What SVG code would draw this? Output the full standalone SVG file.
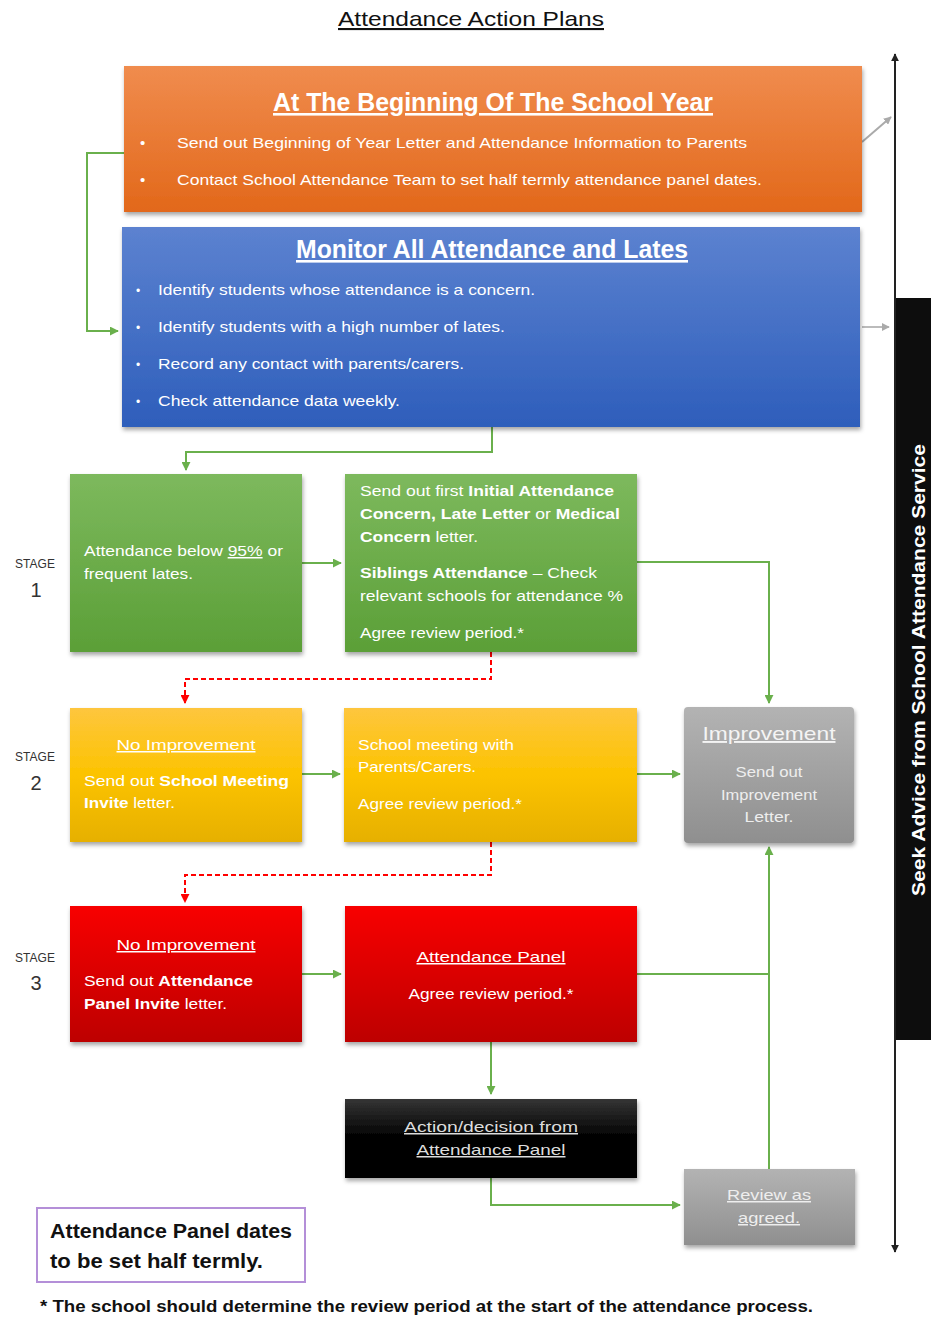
<svg xmlns="http://www.w3.org/2000/svg" width="931" height="1317" viewBox="0 0 931 1317">
<defs>
<linearGradient id="gOr" x1="0" y1="0" x2="0" y2="1"><stop offset="0" stop-color="#f08c4e"/><stop offset="1" stop-color="#e2681a"/></linearGradient>
<linearGradient id="gBl" x1="0" y1="0" x2="0" y2="1"><stop offset="0" stop-color="#5c82d0"/><stop offset="1" stop-color="#2e5ebb"/></linearGradient>
<linearGradient id="gGr" x1="0" y1="0" x2="0" y2="1"><stop offset="0" stop-color="#7db95d"/><stop offset="1" stop-color="#5b9f37"/></linearGradient>
<linearGradient id="gYe" x1="0" y1="0" x2="0" y2="1"><stop offset="0" stop-color="#fec63e"/><stop offset="0.5" stop-color="#fcc300"/><stop offset="1" stop-color="#e6b000"/></linearGradient>
<linearGradient id="gGy" x1="0" y1="0" x2="0" y2="1"><stop offset="0" stop-color="#b3b3b3"/><stop offset="1" stop-color="#8f8f8f"/></linearGradient>
<linearGradient id="gRd" x1="0" y1="0" x2="0" y2="1"><stop offset="0" stop-color="#f80000"/><stop offset="1" stop-color="#bd0000"/></linearGradient>
<linearGradient id="gBk" x1="0" y1="0" x2="0" y2="1"><stop offset="0" stop-color="#353535"/><stop offset="0.5" stop-color="#000"/><stop offset="1" stop-color="#000"/></linearGradient>
<filter id="sh" x="-5%" y="-5%" width="112%" height="115%"><feDropShadow dx="1" dy="3" stdDeviation="2" flood-color="#000" flood-opacity="0.35"/></filter>
<marker id="aG" viewBox="0 0 10 10" refX="9" refY="5" markerWidth="4.5" markerHeight="4.5" orient="auto"><path d="M0,0 L10,5 L0,10 z" fill="#6ab04c"/></marker>
<marker id="aR" viewBox="0 0 10 10" refX="9" refY="5" markerWidth="4.5" markerHeight="4.5" orient="auto"><path d="M0,0 L10,5 L0,10 z" fill="#ff0000"/></marker>
<marker id="aK" viewBox="0 0 10 10" refX="9" refY="5" markerWidth="4" markerHeight="4" orient="auto-start-reverse"><path d="M0,0 L10,5 L0,10 z" fill="#222"/></marker>
<marker id="aY" viewBox="0 0 10 10" refX="9" refY="5" markerWidth="4" markerHeight="4" orient="auto"><path d="M0,0 L10,5 L0,10 z" fill="#aaa"/></marker>
</defs>
<style>
text{font-family:"Liberation Sans",Arial,sans-serif;}
.w{fill:#fff;font-size:15px;}
.wc{fill:#fff;font-size:15px;text-anchor:middle;}
.t{fill:#fff;font-size:26px;font-weight:bold;text-anchor:middle;text-decoration:underline;}
.lg{fill:#eee;font-size:15px;text-anchor:middle;}
.b{font-weight:bold;}
.u{text-decoration:underline;}
.st{fill:#333;font-size:12px;text-anchor:middle;}
.sn{fill:#333;font-size:20px;text-anchor:middle;}
.g{fill:none;stroke:#6ab04c;stroke-width:2;}
.r{fill:none;stroke:#ff0000;stroke-width:2;stroke-dasharray:5,3;}
</style>

<text x="471" y="26" font-size="21" text-anchor="middle" fill="#111" text-decoration="underline" textLength="266" lengthAdjust="spacingAndGlyphs">Attendance Action Plans</text>

<g id="connectors">
<polyline class="g" points="124,153 87,153 87,331 118,331" marker-end="url(#aG)"/>
<polyline class="g" points="492,427 492,452 186,452 186,470" marker-end="url(#aG)"/>
<line class="g" x1="302" y1="563" x2="341" y2="563" marker-end="url(#aG)"/>
<polyline class="g" points="637,562 769,562 769,703" marker-end="url(#aG)"/>
<polyline class="r" points="491,652 491,679 185,679 185,703" marker-end="url(#aR)"/>
<line class="g" x1="302" y1="774" x2="340" y2="774" marker-end="url(#aG)"/>
<line class="g" x1="637" y1="774" x2="680" y2="774" marker-end="url(#aG)"/>
<polyline class="r" points="491,842 491,875 185,875 185,902" marker-end="url(#aR)"/>
<line class="g" x1="302" y1="974" x2="341" y2="974" marker-end="url(#aG)"/>
<line class="g" x1="637" y1="974" x2="769" y2="974"/>
<line class="g" x1="769" y1="1170" x2="769" y2="847" marker-end="url(#aG)"/>
<line class="g" x1="491" y1="1042" x2="491" y2="1094" marker-end="url(#aG)"/>
<polyline class="g" points="491,1178 491,1205 680,1205" marker-end="url(#aG)"/>
<line x1="862" y1="142" x2="891" y2="117" stroke="#aaa" stroke-width="2" marker-end="url(#aY)"/>
<line x1="862" y1="327" x2="889" y2="327" stroke="#bbb" stroke-width="2" marker-end="url(#aY)"/>
<line x1="895" y1="1252" x2="895" y2="54" stroke="#222" stroke-width="2" marker-end="url(#aK)" marker-start="url(#aK)"/>
</g>

<g id="n-begin">
<rect x="124" y="66" width="738" height="146" fill="url(#gOr)" filter="url(#sh)"/>
<text x="493" y="111" class="t" textLength="440" lengthAdjust="spacingAndGlyphs">At The Beginning Of The School Year</text>
<text x="140" y="148" class="w">•</text>
<text x="177" y="148" class="w" textLength="570" lengthAdjust="spacingAndGlyphs">Send out  Beginning of Year Letter and Attendance Information  to Parents</text>
<text x="140" y="185" class="w">•</text>
<text x="177" y="185" class="w" textLength="585" lengthAdjust="spacingAndGlyphs">Contact School Attendance Team to set half termly attendance panel dates.</text>
</g>

<g id="n-monitor">
<rect x="122" y="227" width="738" height="200" fill="url(#gBl)" filter="url(#sh)"/>
<text x="492" y="258" class="t" textLength="392" lengthAdjust="spacingAndGlyphs">Monitor All Attendance and Lates</text>
<text x="136" y="295" class="w" style="font-size:12px">•</text>
<text x="158" y="295" class="w" textLength="377" lengthAdjust="spacingAndGlyphs">Identify students whose attendance is a concern.</text>
<text x="136" y="332" class="w" style="font-size:12px">•</text>
<text x="158" y="332" class="w" textLength="347" lengthAdjust="spacingAndGlyphs">Identify students with a high number of lates.</text>
<text x="136" y="369" class="w" style="font-size:12px">•</text>
<text x="158" y="369" class="w" textLength="306" lengthAdjust="spacingAndGlyphs">Record any contact with parents/carers.</text>
<text x="136" y="406" class="w" style="font-size:12px">•</text>
<text x="158" y="406" class="w" textLength="242" lengthAdjust="spacingAndGlyphs">Check attendance data weekly.</text>
</g>

<g id="n-advice">
<rect x="896" y="298" width="35" height="742" fill="#0d0d0d"/>
<text transform="translate(925,670) rotate(-90)" text-anchor="middle" fill="#fff" font-size="18" font-weight="bold" textLength="452" lengthAdjust="spacingAndGlyphs">Seek Advice from School Attendance Service</text>
</g>

<g id="stage-labels">
<text x="35" y="568" class="st">STAGE</text>
<text x="36" y="597" class="sn">1</text>
<text x="35" y="761" class="st">STAGE</text>
<text x="36" y="790" class="sn">2</text>
<text x="35" y="962" class="st">STAGE</text>
<text x="36" y="990" class="sn">3</text>
</g>

<g id="n-s1a">
<rect x="70" y="474" width="232" height="178" fill="url(#gGr)" filter="url(#sh)"/>
<text x="84" y="556" class="w" textLength="199" lengthAdjust="spacingAndGlyphs">Attendance below <tspan class="u">95%</tspan> or</text>
<text x="84" y="579" class="w" textLength="109" lengthAdjust="spacingAndGlyphs">frequent  lates.</text>
</g>

<g id="n-s1b">
<rect x="345" y="474" width="292" height="178" fill="url(#gGr)" filter="url(#sh)"/>
<text x="360" y="496" class="w" textLength="254" lengthAdjust="spacingAndGlyphs">Send out first <tspan class="b">Initial Attendance</tspan></text>
<text x="360" y="519" class="w" textLength="260" lengthAdjust="spacingAndGlyphs"><tspan class="b">Concern, Late Letter</tspan> or <tspan class="b">Medical</tspan></text>
<text x="360" y="542" class="w" textLength="118" lengthAdjust="spacingAndGlyphs"><tspan class="b">Concern</tspan> letter.</text>
<text x="360" y="578" class="w" textLength="237" lengthAdjust="spacingAndGlyphs"><tspan class="b">Siblings Attendance</tspan> – Check</text>
<text x="360" y="601" class="w" textLength="263" lengthAdjust="spacingAndGlyphs">relevant  schools for  attendance  %</text>
<text x="360" y="638" class="w" textLength="164" lengthAdjust="spacingAndGlyphs">Agree review  period.*</text>
</g>

<g id="n-s2a">
<rect x="70" y="708" width="232" height="134" fill="url(#gYe)" filter="url(#sh)"/>
<text x="186" y="750" class="wc u" textLength="139" lengthAdjust="spacingAndGlyphs">No Improvement</text>
<text x="84" y="786" class="w" textLength="205" lengthAdjust="spacingAndGlyphs">Send out <tspan class="b">School Meeting</tspan></text>
<text x="84" y="808" class="w" textLength="91" lengthAdjust="spacingAndGlyphs"><tspan class="b">Invite</tspan> letter.</text>
</g>

<g id="n-s2b">
<rect x="344" y="708" width="293" height="134" fill="url(#gYe)" filter="url(#sh)"/>
<text x="358" y="750" class="w" textLength="156" lengthAdjust="spacingAndGlyphs">School meeting with</text>
<text x="358" y="772" class="w" textLength="118" lengthAdjust="spacingAndGlyphs">Parents/Carers.</text>
<text x="358" y="809" class="w" textLength="164" lengthAdjust="spacingAndGlyphs">Agree review  period.*</text>
</g>

<g id="n-improve">
<rect x="684" y="707" width="170" height="136" rx="4" fill="url(#gGy)" filter="url(#sh)"/>
<text x="769" y="740" class="lg u" style="font-size:19px;fill:#f4f4f4" textLength="133" lengthAdjust="spacingAndGlyphs">Improvement</text>
<text x="769" y="777" class="lg" textLength="67" lengthAdjust="spacingAndGlyphs">Send out</text>
<text x="769" y="800" class="lg" textLength="96" lengthAdjust="spacingAndGlyphs">Improvement</text>
<text x="769" y="822" class="lg" textLength="49" lengthAdjust="spacingAndGlyphs">Letter.</text>
</g>

<g id="n-s3a">
<rect x="70" y="906" width="232" height="136" fill="url(#gRd)" filter="url(#sh)"/>
<text x="186" y="950" class="wc u" textLength="139" lengthAdjust="spacingAndGlyphs">No Improvement</text>
<text x="84" y="986" class="w" textLength="169" lengthAdjust="spacingAndGlyphs">Send out <tspan class="b">Attendance</tspan></text>
<text x="84" y="1009" class="w" textLength="143" lengthAdjust="spacingAndGlyphs"><tspan class="b">Panel Invite</tspan> letter.</text>
</g>

<g id="n-s3b">
<rect x="345" y="906" width="292" height="136" fill="url(#gRd)" filter="url(#sh)"/>
<text x="491" y="962" class="wc u" textLength="149" lengthAdjust="spacingAndGlyphs">Attendance Panel</text>
<text x="491" y="999" class="wc" textLength="165" lengthAdjust="spacingAndGlyphs">Agree review  period.*</text>
</g>

<g id="n-decision">
<rect x="345" y="1099" width="292" height="79" fill="url(#gBk)" filter="url(#sh)"/>
<text x="491" y="1132" class="lg u" style="fill:#ddd" textLength="174" lengthAdjust="spacingAndGlyphs">Action/decision  from</text>
<text x="491" y="1155" class="lg u" style="fill:#ddd" textLength="149" lengthAdjust="spacingAndGlyphs">Attendance Panel</text>
</g>

<g id="n-review">
<rect x="684" y="1169" width="171" height="76" fill="url(#gGy)" filter="url(#sh)"/>
<text x="769" y="1200" class="lg u" textLength="84" lengthAdjust="spacingAndGlyphs">Review as</text>
<text x="769" y="1223" class="lg u" textLength="62" lengthAdjust="spacingAndGlyphs">agreed.</text>
</g>

<g id="n-note">
<rect x="37" y="1208" width="268" height="74" fill="#fff" stroke="#b48fd8" stroke-width="2"/>
<text x="50" y="1238" font-size="20" font-weight="bold" fill="#111" textLength="242" lengthAdjust="spacingAndGlyphs">Attendance Panel dates</text>
<text x="50" y="1268" font-size="20" font-weight="bold" fill="#111" textLength="213" lengthAdjust="spacingAndGlyphs">to be set half termly.</text>
</g>

<text x="40" y="1312" font-size="16" font-weight="bold" fill="#111" textLength="773" lengthAdjust="spacingAndGlyphs">* The school should determine the review period at the start of the attendance process.</text>
</svg>
